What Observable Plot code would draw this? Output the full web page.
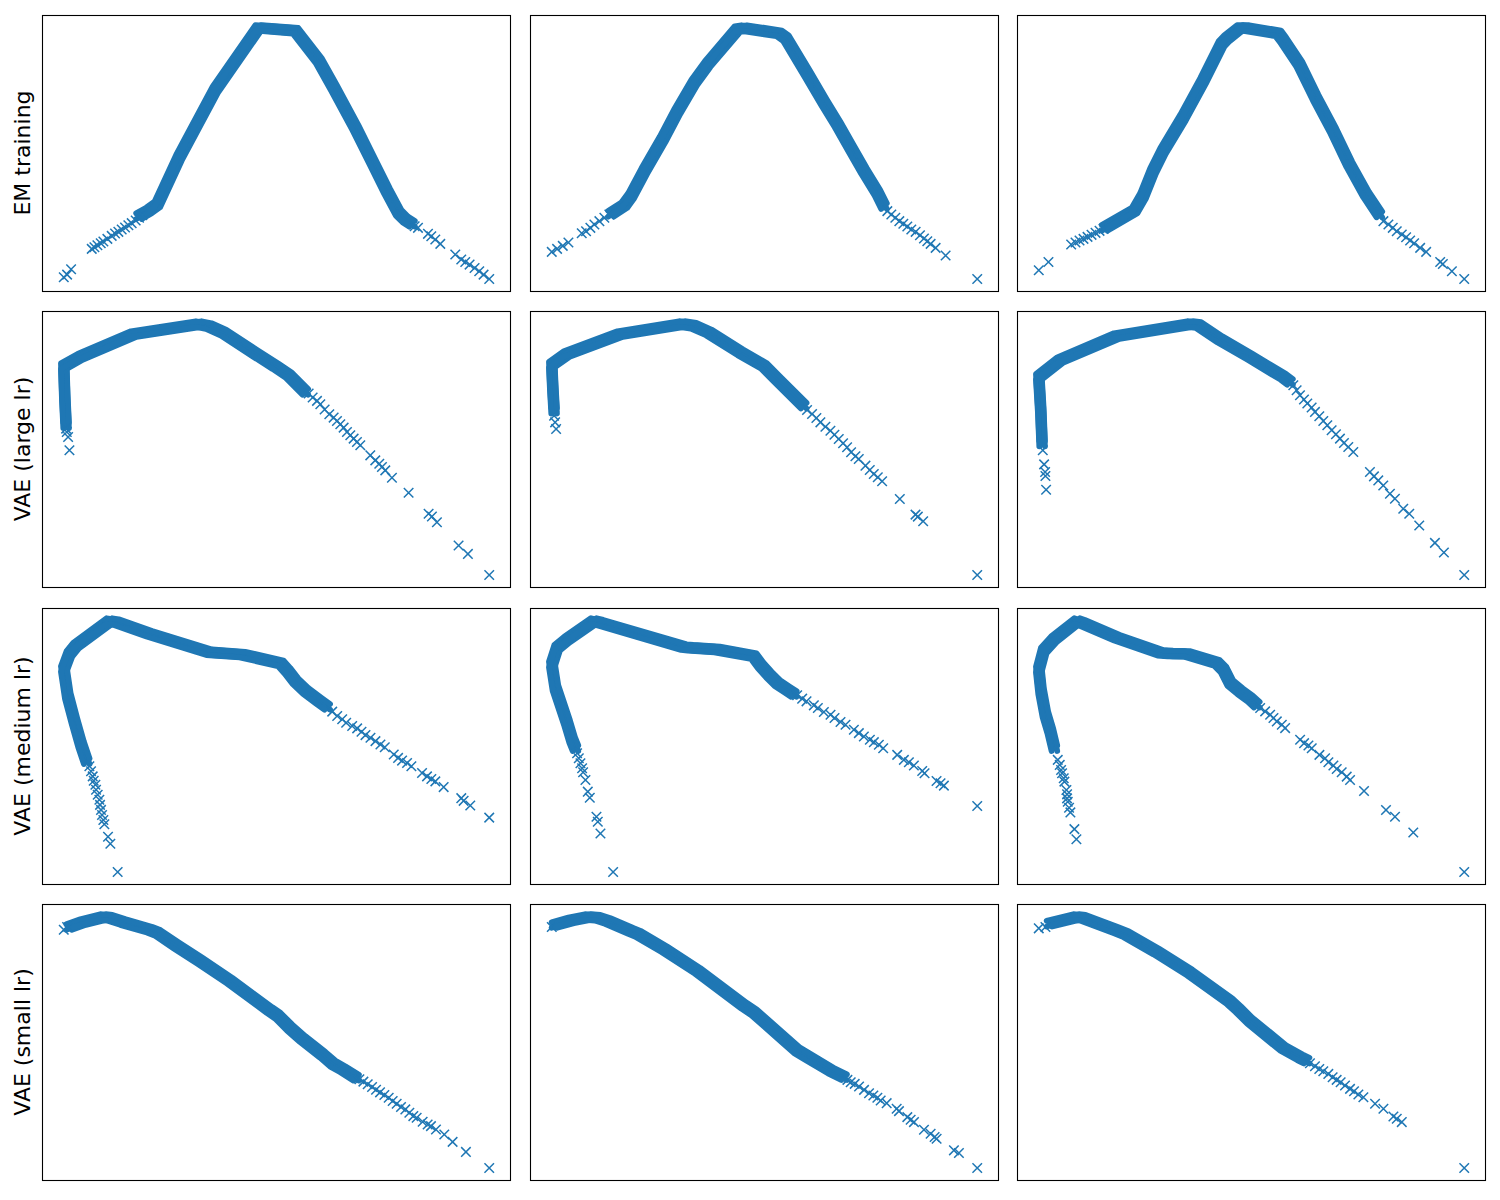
<!DOCTYPE html>
<html><head><meta charset="utf-8">
<script src="https://cdn.jsdelivr.net/npm/d3@7"></script>
<script src="https://cdn.jsdelivr.net/npm/@observablehq/plot@0.6"></script>
<style>
body{margin:0;background:#fff;}
#fig{position:relative;width:1500px;height:1200px;background:#fff;font-family:"DejaVu Sans",sans-serif;overflow:hidden;}
.panel{position:absolute;}
.rowlabel{position:absolute;font-size:22px;line-height:1;white-space:nowrap;color:#000;transform:translate(-50%,-50%) rotate(-90deg);}
</style></head><body><div id="fig"></div>
<script>
// Row labels
const rowLabels = ["EM training", "VAE (large lr)", "VAE (medium lr)", "VAE (small lr)"];

// ---- Data (arbitrary units). "Band" = densely packed run of markers, "Pts" = individual markers.
// EM training
const emTrain1Band = [[290,226],[320,243],[345,261],[410,401],[520,606],[648,789],[670,788],[760,781],[830,691],[875,611],[940,491],[990,391],[1035,301],[1070,236],[1090,216],[1110,203]];
const emTrain1Pts = [[64,43],[74,51],[86,67],[148,128],[156,133],[165,139],[175,145],[183,150],[195,158],[208,167],[218,174],[228,179],[238,186],[248,192],[258,199],[268,205],[280,213],[290,221],[300,229],[1118,196],[1128,191],[1158,173],[1168,166],[1180,156],[1195,143],[1240,111],[1258,96],[1270,89],[1283,81],[1298,71],[1312,61],[1325,51],[1342,38]];
const emTrain2Band = [[240,233],[280,259],[300,286],[340,361],[395,456],[440,541],[490,626],[530,681],[620,786],[640,789],[745,773],[765,759],[830,651],[880,566],[920,501],[960,431],[1000,361],[1040,296],[1060,256]];
const emTrain2Pts = [[62,119],[78,128],[95,137],[112,147],[152,175],[165,181],[178,191],[190,201],[205,211],[220,221],[235,231],[1070,241],[1082,231],[1094,221],[1106,211],[1118,203],[1130,195],[1142,186],[1155,179],[1168,169],[1180,159],[1190,151],[1200,143],[1215,131],[1245,108],[1340,38]];
const emTrain3Band = [[265,191],[355,243],[380,286],[410,361],[440,421],[500,521],[560,631],[615,741],[632,759],[670,789],[690,789],[785,773],[800,753],[848,681],[897,581],[950,481],[998,381],[1048,291],[1088,231]];
const emTrain3Pts = [[68,64],[97,89],[165,141],[178,147],[190,153],[202,158],[214,164],[226,170],[238,176],[250,182],[262,188],[1100,211],[1115,201],[1128,191],[1140,181],[1155,171],[1168,163],[1180,153],[1192,145],[1210,131],[1228,119],[1270,89],[1278,83],[1305,61],[1342,38]];
// VAE (large lr)
const vaeLarge1Band = [[72,486],[68,571],[65,663],[115,691],[275,759],[470,789],[500,783],[545,763],[640,701],[700,663],[740,636],[790,586]];
const vaeLarge1Pts = [[72,476],[74,466],[78,451],[82,411],[800,581],[812,569],[825,559],[835,549],[848,533],[862,519],[875,509],[885,499],[895,489],[905,479],[915,466],[925,456],[935,446],[945,436],[955,426],[985,396],[1000,381],[1012,371],[1020,361],[1030,351],[1050,329],[1100,284],[1160,221],[1170,213],[1185,196],[1250,126],[1278,101],[1342,38]];
const vaeLarge2Band = [[72,531],[68,601],[65,669],[110,701],[270,761],[455,791],[490,786],[535,766],[630,706],[700,666],[740,626],[820,546]];
const vaeLarge2Pts = [[72,516],[75,496],[78,476],[830,533],[845,521],[858,509],[870,496],[885,483],[900,471],[912,459],[925,446],[938,433],[950,421],[962,406],[975,394],[985,386],[1005,366],[1018,353],[1030,341],[1042,331],[1055,319],[1108,266],[1155,219],[1162,213],[1178,199],[1340,38]];
const vaeLarge3Band = [[76,431],[72,531],[66,631],[85,646],[130,681],[300,753],[520,789],[545,786],[610,743],[700,691],[800,631],[820,616]];
const vaeLarge3Pts = [[78,411],[82,369],[85,346],[86,334],[88,293],[830,606],[840,591],[850,576],[862,563],[872,551],[885,539],[895,526],[908,513],[920,499],[932,486],[945,471],[958,459],[970,446],[982,433],[995,421],[1010,406],[1060,346],[1072,333],[1085,321],[1100,306],[1120,281],[1135,266],[1160,236],[1178,221],[1208,186],[1255,134],[1282,105],[1343,38]];
// VAE (medium lr)
const vaeMedium1Band = [[132,371],[115,421],[95,491],[75,566],[63,646],[80,691],[100,716],[200,789],[220,786],[320,751],[500,696],[600,689],[715,663],[735,641],[760,609],[790,581],[830,551],[855,533]];
const vaeMedium1Pts = [[140,356],[145,341],[150,326],[153,313],[158,301],[160,286],[165,271],[170,256],[172,241],[175,226],[178,211],[182,196],[185,183],[196,146],[203,125],[225,41],[870,519],[885,506],[900,496],[912,486],[930,476],[945,469],[958,459],[970,449],[985,441],[1000,431],[1015,421],[1028,413],[1055,391],[1068,381],[1080,373],[1095,366],[1108,356],[1140,336],[1155,326],[1168,318],[1180,311],[1205,294],[1258,261],[1265,253],[1285,239],[1342,203]];
const vaeMedium2Band = [[135,411],[125,436],[110,486],[95,531],[75,591],[64,661],[80,711],[110,736],[190,791],[210,786],[460,713],[480,711],[560,706],[670,686],[690,659],[715,631],[740,606],[770,586],[790,573]];
const vaeMedium2Pts = [[140,396],[145,381],[150,366],[155,351],[158,339],[165,316],[172,281],[178,263],[198,206],[202,191],[210,156],[248,41],[800,569],[815,559],[828,551],[850,539],[862,531],[880,519],[900,511],[912,501],[930,489],[945,481],[970,466],[985,456],[1000,446],[1018,436],[1030,429],[1045,421],[1058,411],[1100,391],[1120,376],[1135,369],[1150,359],[1175,343],[1182,336],[1218,313],[1230,306],[1240,299],[1340,238]];
const vaeMedium3Band = [[112,411],[100,461],[85,511],[72,581],[65,646],[80,703],[110,736],[180,791],[195,786],[300,741],[430,696],[460,694],[510,693],[600,666],[620,646],[640,606],[670,581],[700,559],[720,541]];
const vaeMedium3Pts = [[122,376],[128,361],[132,346],[135,336],[140,321],[142,311],[148,286],[150,273],[150,261],[152,251],[156,233],[160,219],[172,169],[178,139],[730,531],[745,521],[760,511],[770,501],[780,491],[795,481],[805,471],[850,436],[862,426],[875,419],[885,411],[908,391],[925,381],[935,369],[950,359],[960,349],[975,339],[990,326],[1000,316],[1042,283],[1108,226],[1135,206],[1190,159],[1343,41]];
// VAE (small lr)
const vaeSmall1Band = [[78,761],[120,776],[180,791],[200,789],[240,776],[320,753],[345,743],[400,706],[470,661],[560,601],[680,513],[705,496],[740,461],[780,426],[840,379],[870,353],[900,336],[940,311]];
const vaeSmall1Pts = [[62,753],[72,761],[950,306],[962,299],[975,291],[988,283],[1000,275],[1012,267],[1025,259],[1038,251],[1050,241],[1062,233],[1075,223],[1088,216],[1100,206],[1112,196],[1122,191],[1140,179],[1155,171],[1165,166],[1180,156],[1205,141],[1230,119],[1270,89],[1340,41]];
const vaeSmall2Band = [[70,769],[120,783],[170,793],[200,791],[230,781],[300,751],[320,743],[400,696],[500,631],[640,526],[670,506],[760,426],[800,391],[830,373],[900,331],[940,311]];
const vaeSmall2Pts = [[62,763],[950,303],[960,296],[972,291],[985,283],[1000,273],[1015,263],[1028,256],[1040,249],[1050,241],[1068,233],[1098,216],[1105,209],[1130,191],[1140,183],[1150,176],[1180,153],[1200,141],[1212,131],[1218,126],[1270,91],[1285,83],[1340,38]];
const vaeSmall3Band = [[100,773],[180,793],[200,791],[300,753],[330,741],[420,689],[520,626],[640,539],[665,516],[700,481],[800,399],[850,371],[870,361]];
const vaeSmall3Pts = [[68,759],[88,763],[880,353],[895,344],[908,336],[920,329],[935,321],[948,311],[960,303],[972,296],[985,286],[1000,276],[1012,269],[1025,259],[1040,251],[1075,231],[1100,216],[1130,193],[1140,186],[1155,176],[1342,38]];

// ---- Table of panels built from the arrays above
const panels = [
  [emTrain1Band, emTrain1Pts], [emTrain2Band, emTrain2Pts], [emTrain3Band, emTrain3Pts],
  [vaeLarge1Band, vaeLarge1Pts], [vaeLarge2Band, vaeLarge2Pts], [vaeLarge3Band, vaeLarge3Pts],
  [vaeMedium1Band, vaeMedium1Pts], [vaeMedium2Band, vaeMedium2Pts], [vaeMedium3Band, vaeMedium3Pts],
  [vaeSmall1Band, vaeSmall1Pts], [vaeSmall2Band, vaeSmall2Pts], [vaeSmall3Band, vaeSmall3Pts]
].map(([band, pts], i) => ({
  row: Math.floor(i / 3), col: i % 3,
  band: band.map(([x, y]) => ({x, y})),
  pts: pts.map(([x, y]) => ({x, y}))
}));

// ---- Layout
const colLeft = [42, 529.5, 1017];
const rowTop = [15, 311, 607.5, 904];
const W = 468, H = 276;
const blue = "#1f77b4";
// offsets that give the band the footprint of overlapping "x" markers
const bandOffsets = [[0, 0], [2.8, 2.8], [-2.8, -2.8], [2.8, -2.8], [-2.8, 2.8]];

const fig = document.getElementById("fig");
for (const p of panels) {
  const svg = Plot.plot({
    width: W + 2, height: H + 2, margin: 1,
    style: {background: "transparent", overflow: "visible"},
    x: {axis: null, insetLeft: W * 0.05 / 1.1, insetRight: W * 0.05 / 1.1},
    y: {axis: null, insetTop: H * 0.05 / 1.1, insetBottom: H * 0.05 / 1.1},
    marks: [
      ...bandOffsets.map(([dx, dy]) => Plot.line(p.band, {
        x: "x", y: "y", dx, dy, stroke: blue, strokeWidth: 5.8,
        strokeLinejoin: "round", strokeLinecap: "round"
      })),
      Plot.dot(p.pts, {x: "x", y: "y", symbol: "times", r: 4.4, stroke: blue, strokeWidth: 1.5}),
      Plot.frame({stroke: "#000", strokeWidth: 1.1})
    ]
  });
  svg.classList.add("panel");
  svg.style.left = (colLeft[p.col] - 1) + "px";
  svg.style.top = (rowTop[p.row] - 1) + "px";
  fig.appendChild(svg);
}
rowLabels.forEach((t, i) => {
  const d = document.createElement("div");
  d.className = "rowlabel";
  d.textContent = t;
  d.style.left = "23px";
  d.style.top = (rowTop[i] + H / 2) + "px";
  fig.appendChild(d);
});
</script>
</body></html>
